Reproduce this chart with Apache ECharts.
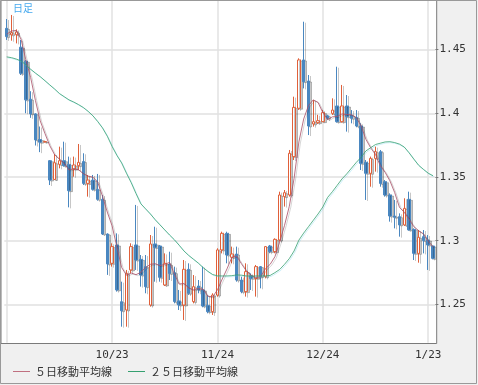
<!DOCTYPE html>
<html><head><meta charset="utf-8">
<script src="https://cdn.jsdelivr.net/npm/echarts@6/dist/echarts.min.js"></script>
<style>html,body{margin:0;padding:0;background:#f0f0f0}#c{width:478px;height:385px}</style>
</head><body><div id="c"></div>
<script>
const categories = ['9/23','9/24','9/25','9/26','9/29','9/30','10/1','10/2','10/3','10/6','10/7','10/8','10/9','10/10','10/13','10/14','10/15','10/16','10/17','10/20','10/21','10/22','10/23','10/24','10/27','10/28','10/29','10/30','10/31','11/3','11/4','11/5','11/6','11/7','11/10','11/11','11/12','11/13','11/14','11/17','11/18','11/19','11/20','11/21','11/24','11/25','11/26','11/27','11/28','12/1','12/2','12/3','12/4','12/5','12/8','12/9','12/10','12/11','12/12','12/15','12/16','12/17','12/18','12/19','12/22','12/23','12/24','12/25','12/26','12/29','12/30','12/31','1/1','1/2','1/5','1/6','1/7','1/8','1/9','1/12','1/13','1/14','1/15','1/16','1/19','1/20','1/21','1/22','1/23','1/26'];
const opens = [1.4666,1.4615,1.4616,1.4518,1.4408,1.4110,1.3995,1.3794,1.3775,1.3628,1.3481,1.3599,1.3628,1.3599,1.3563,1.3589,1.3621,1.3450,1.3476,1.3403,1.3325,1.3053,1.2823,1.2967,1.2522,1.2457,1.2771,1.2967,1.2854,1.2797,1.2496,1.2975,1.2959,1.2653,1.2815,1.2750,1.2528,1.2496,1.2776,1.2523,1.2645,1.2614,1.2493,1.2444,1.2574,1.2928,1.3058,1.2870,1.2896,1.2692,1.2601,1.2724,1.2705,1.2797,1.2718,1.2959,1.2915,1.3006,1.3346,1.3359,1.3660,1.4039,1.4418,1.4253,1.3916,1.3926,1.3934,1.3980,1.3999,1.4057,1.3934,1.4057,1.3986,1.3968,1.3900,1.3615,1.3529,1.3646,1.3699,1.3463,1.3359,1.3194,1.3189,1.3124,1.3325,1.3089,1.2901,1.3032,1.3006,1.2959];
const closes = [1.4601,1.4632,1.4637,1.4313,1.4105,1.3995,1.3791,1.3773,1.3778,1.3476,1.3612,1.3628,1.3589,1.3393,1.3594,1.3615,1.3450,1.3476,1.3403,1.3325,1.3053,1.2818,1.2954,1.2614,1.2451,1.2745,1.2954,1.2849,1.2731,1.2640,1.2975,1.2948,1.2713,1.2823,1.2744,1.2523,1.2496,1.2776,1.2588,1.2640,1.2614,1.2488,1.2444,1.2574,1.2928,1.3058,1.2888,1.2896,1.2692,1.2601,1.2758,1.2705,1.2797,1.2718,1.2954,1.2915,1.3011,1.3359,1.3377,1.3686,1.4046,1.4418,1.4248,1.3900,1.3934,1.3942,1.4005,1.3962,1.4025,1.3934,1.4057,1.3973,1.3960,1.3900,1.3607,1.3529,1.3646,1.3699,1.3450,1.3359,1.3194,1.3184,1.3124,1.3254,1.3085,1.2901,1.3027,1.3001,1.2967,1.2862];
const lows = [1.4575,1.4569,1.4548,1.4300,1.4000,1.3964,1.3747,1.3695,1.3770,1.3437,1.3476,1.3568,1.3581,1.3262,1.3502,1.3555,1.3437,1.3346,1.3393,1.3314,1.3045,1.2732,1.2797,1.2601,1.2326,1.2326,1.2745,1.2771,1.2640,1.2588,1.2483,1.2679,1.2679,1.2645,1.2692,1.2509,1.2457,1.2379,1.2575,1.2509,1.2588,1.2478,1.2431,1.2418,1.2561,1.2901,1.2823,1.2823,1.2679,1.2588,1.2562,1.2614,1.2562,1.2627,1.2705,1.2902,1.2902,1.2993,1.3268,1.3346,1.3633,1.4026,1.4195,1.3829,1.3895,1.3916,1.3930,1.3949,1.3986,1.3926,1.3926,1.3856,1.3921,1.3890,1.3555,1.3320,1.3424,1.3542,1.3424,1.3346,1.3150,1.3097,1.3032,1.3116,1.3079,1.2849,1.2828,1.2901,1.2771,1.2854];
const highs = [1.4739,1.4771,1.4658,1.4575,1.4419,1.4173,1.4000,1.3896,1.3785,1.3633,1.3680,1.3738,1.3777,1.3660,1.3660,1.3759,1.3686,1.3516,1.3516,1.3524,1.3359,1.3058,1.2980,1.3058,1.2679,1.2771,1.2980,1.3281,1.2888,1.2888,1.3045,1.3110,1.2967,1.2901,1.2914,1.2797,1.2614,1.2849,1.2823,1.2731,1.2692,1.2797,1.2574,1.2588,1.2941,1.3071,1.3071,1.2954,1.2954,1.2718,1.2823,1.2744,1.2810,1.2802,1.2959,1.2967,1.3019,1.3385,1.3398,1.3712,1.4130,1.4431,1.4718,1.4300,1.4104,1.3988,1.4025,1.3988,1.4117,1.4365,1.4222,1.4143,1.4025,1.4025,1.3921,1.3633,1.3660,1.3738,1.3712,1.3476,1.3372,1.3320,1.3215,1.3333,1.3385,1.3097,1.3084,1.3084,1.3045,1.2959];
const ma5 = [1.4620,1.4645,1.4650,1.4580,1.4420,1.4280,1.4100,1.3940,1.3840,1.3745,1.3675,1.3640,1.3607,1.3555,1.3565,1.3557,1.3526,1.3507,1.3499,1.3459,1.3350,1.3225,1.3117,1.2953,1.2790,1.2730,1.2747,1.2734,1.2752,1.2790,1.2815,1.2820,1.2805,1.2815,1.2830,1.2740,1.2660,1.2665,1.2630,1.2615,1.2625,1.2620,1.2565,1.2560,1.2615,1.2700,1.2780,1.2870,1.2880,1.2820,1.2765,1.2730,1.2712,1.2716,1.2780,1.2815,1.2875,1.2990,1.3120,1.3270,1.3490,1.3775,1.3955,1.4060,1.4105,1.4085,1.4005,1.3950,1.3972,1.3975,1.3995,1.3990,1.3988,1.3965,1.3900,1.3795,1.3728,1.3676,1.3588,1.3537,1.3470,1.3378,1.3262,1.3223,1.3168,1.3110,1.3078,1.3054,1.2996,1.2952];
const ma25 = [1.4442,1.4436,1.4425,1.4410,1.4380,1.4345,1.4315,1.4287,1.4255,1.4222,1.4190,1.4155,1.4130,1.4105,1.4088,1.4068,1.4045,1.4015,1.3980,1.3935,1.3885,1.3820,1.3740,1.3670,1.3610,1.3530,1.3455,1.3370,1.3290,1.3250,1.3210,1.3165,1.3125,1.3085,1.3045,1.3008,1.2965,1.2920,1.2885,1.2855,1.2825,1.2790,1.2760,1.2735,1.2725,1.2724,1.2724,1.2726,1.2732,1.2730,1.2724,1.2723,1.2724,1.2724,1.2724,1.2728,1.2750,1.2775,1.2815,1.2860,1.2920,1.3005,1.3060,1.3110,1.3160,1.3210,1.3265,1.3340,1.3385,1.3435,1.3485,1.3525,1.3570,1.3615,1.3655,1.3705,1.3730,1.3755,1.3765,1.3775,1.3777,1.3770,1.3758,1.3735,1.3690,1.3640,1.3592,1.3560,1.3530,1.3510];
const tickLabels = ['10/23','11/24','12/24','1/23'];
const gridDates = ['9/23','10/23','11/24','12/24','1/23'];
const yTicks = [1.25,1.3,1.35,1.4,1.45];
const names = ['５日移動平均線','２５日移動平均線'];

const chart = echarts.init(document.getElementById('c'), null, {renderer:'canvas'});
const mono = 'DejaVu Sans Mono';
chart.setOption({
  animation:false,
  backgroundColor:'#f0f0f0',
  title:{text:'日足',left:13,top:3,padding:0,textStyle:{fontSize:10,fontWeight:'normal',color:'#46a9ee',fontFamily:'Noto Sans CJK JP'}},
  legend:{data:names,left:13,top:366,padding:0,icon:'rect',itemWidth:17,itemHeight:1,itemGap:16,
    textStyle:{fontFamily:'Noto Sans CJK JP',fontSize:11,color:'#333'}},
  grid:{left:4.3,top:1.05,width:431.1,height:341.7},
  xAxis:{type:'category',data:categories,boundaryGap:true,
    axisLine:{show:false},axisTick:{show:false},
    axisLabel:{interval:(i,v)=>tickLabels.includes(v),fontFamily:mono,fontSize:11,color:'#333',margin:7},
    splitLine:{show:true,alignWithLabel:true,interval:(i,v)=>gridDates.includes(v),lineStyle:{color:'#e2e2e2',width:1.5}}},
  yAxis:{type:'value',position:'right',min:1.22,max:1.488,
    axisLine:{show:false},
    axisTick:{show:true,length:3,customValues:yTicks,lineStyle:{color:'#777'}},
    axisLabel:{customValues:yTicks,fontFamily:mono,fontSize:11,color:'#333',margin:4},
    splitLine:{show:true,customValues:yTicks,lineStyle:{color:'#e8e8e8',width:2}}},
  graphic:[
    {type:'rect',silent:true,z:-100,shape:{x:1,y:1,width:435.5,height:342.5},style:{fill:'#ffffff'}},
    {type:'rect',silent:true,z:100,shape:{x:1,y:0.5,width:435.7,height:343},style:{fill:null,stroke:'#7a7a7a',lineWidth:1}},
    {type:'rect',silent:true,z:100,shape:{x:0.5,y:0.5,width:476,height:383},style:{fill:null,stroke:'#999',lineWidth:1}}
  ],
  series:[
    {type:'candlestick',name:'日足',barWidth:3,
      data:categories.map((_,i)=>[opens[i],closes[i],lows[i],highs[i]]),
      itemStyle:{color:'#ffffff',color0:'#4a87c0',borderColor:'#e0603a',borderColor0:'#4a87c0',borderWidth:1,
        shadowColor:'rgba(0,0,0,0.22)',shadowOffsetX:2,shadowOffsetY:1,shadowBlur:0}},
    {type:'line',name:names[0],data:ma5,symbol:'none',
      lineStyle:{color:'#a84c64',width:0.8,shadowColor:'rgba(0,0,0,0.2)',shadowOffsetX:1.5,shadowOffsetY:1},
      itemStyle:{color:'#c07080'}},
    {type:'line',name:names[1],data:ma25,symbol:'none',
      lineStyle:{color:'#35a070',width:0.8,shadowColor:'rgba(90,200,235,0.35)',shadowOffsetX:1,shadowOffsetY:1},
      itemStyle:{color:'#35a070'}}
  ]
});
</script></body></html>
